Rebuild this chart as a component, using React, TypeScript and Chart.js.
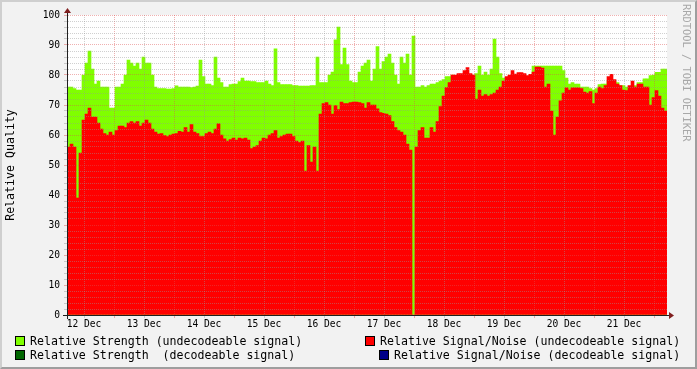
import React, { useEffect, useRef } from "react";
import { Chart, registerables } from "chart.js";

Chart.register(...registerables);

// Time axis: hours counted from 12 Dec 00:00; one sample every 1.2 h
const START_HOUR = 5.2;
const STEP_HOURS = 1.2;
const DAY_LABELS = ["12 Dec", "13 Dec", "14 Dec", "15 Dec", "16 Dec", "17 Dec", "18 Dec", "19 Dec", "20 Dec", "21 Dec"];
const Y_LABEL_EVERY = 10;

// Relative Strength (undecodeable signal)
const strengthUndecodeable = [
  76, 76, 75.5, 75, 75, 80, 84, 88, 82, 77,
  78, 76, 76, 76, 69, 69, 76, 76, 77, 80,
  85, 84, 83, 84, 82, 86, 84, 84, 80, 76,
  75.5, 75.5, 75.5, 75.3, 75.3, 75.5, 76.4, 76, 76, 76,
  76, 75.8, 76, 76.3, 85, 79.5, 77, 77, 76.5, 86,
  79, 77.5, 76, 76, 76.8, 77, 77, 77.8, 79, 78,
  78, 77.8, 77.8, 77.5, 77.5, 77.5, 78, 77, 76.5, 88.7,
  77.5, 76.8, 76.8, 76.8, 76.8, 76.5, 76.5, 76.3, 76.3, 76.3,
  76.3, 76.5, 76.5, 86, 77.5, 77.5, 77.5, 80, 81, 91.7,
  96, 83.5, 89, 83.5, 78, 77.5, 77.5, 81, 83, 84,
  85, 78, 82, 89.5, 82, 84.5, 86, 87, 84, 80,
  77, 86, 84, 87, 80, 93, 76, 76, 76.5, 76,
  76.5, 77, 77, 77.5, 78, 78.5, 79.5, 79.5, 80, 79.5,
  79.5, 80, 80, 79, 79, 80, 80.5, 83, 80, 81,
  80, 82, 92, 86, 80.5, 79, 78, 78, 78, 78,
  78, 78, 79, 79, 80, 83, 83, 83, 83, 83,
  83, 83, 83, 83, 83, 81.5, 79, 77, 77.5, 77,
  77, 76, 76, 76, 75.5, 75, 75.5, 76.8, 77, 77,
  78, 78, 78, 77.5, 76.5, 76.5, 76, 76, 76, 76.5,
  77.5, 77.5, 78.7, 78.7, 79.8, 80, 80.9, 80.9, 82, 82,
];

// Relative Signal/Noise (undecodeable signal)
const signalNoiseUndecodeable = [
  56, 57, 56, 39, 54, 65, 67, 69, 66, 66,
  64, 62, 60.5, 60, 61, 60, 61.5, 63, 63, 62.5,
  64, 64.5, 64, 64.5, 63, 64, 65, 64, 62, 61,
  60.3, 60.5, 59.8, 59.5, 60, 60.3, 60.5, 61.2, 61, 62.5,
  61, 63.5, 61, 60.5, 59.5, 59.5, 60.5, 61, 60.5, 62,
  63.7, 60, 58.7, 58, 58.5, 59, 58.3, 59, 58.7, 59,
  58.3, 55.5, 56, 56.5, 58, 59, 58.7, 60, 60.5, 61.5,
  59, 59.5, 60, 60.3, 60.3, 59.5, 58, 57.5, 58, 48,
  56.5, 51, 56, 48, 67, 70.5, 70.8, 70, 67, 69.8,
  68.5, 71, 70.5, 70.5, 70.8, 71, 71, 70.8, 70.5, 69,
  70.8, 70, 70, 68.7, 67.5, 67.2, 67, 66.5, 64.5, 62.5,
  61.5, 61, 60, 57, 55, 0, 56, 61.5, 62.5, 59,
  59, 62.5, 61, 64.5, 69.5, 73, 75.8, 77.5, 80, 80,
  80.5, 80.5, 81.5, 82.5, 80.5, 80, 72, 75, 73, 73.5,
  73, 73.5, 74, 75, 76, 78, 79.5, 80, 81.5, 80.3,
  80.8, 80.8, 80.5, 79.8, 80.2, 81, 82.6, 82.6, 82.3, 76,
  77, 68, 60, 66, 71.4, 74, 75.7, 75, 75.7, 75.7,
  75.7, 75.5, 74.3, 74, 74.5, 70.5, 74, 76, 75.5, 76.5,
  79.5, 80.2, 78.5, 77, 76.5, 75, 74.8, 76.5, 78, 76,
  77, 77, 76, 76, 70, 72.5, 74.8, 73, 69, 68,
];

const LEGEND_ITEMS = [
  { label: "Relative Strength (undecodeable signal)", color: "#80ff00", left: 15, textLeft: 30, top: 336 },
  { label: "Relative Signal/Noise (undecodeable signal)", color: "#ff0000", left: 365, textLeft: 380, top: 336 },
  { label: "Relative Strength  (decodeable signal)", color: "#006600", left: 15, textLeft: 30, top: 350 },
  { label: "Relative Signal/Noise (decodeable signal)", color: "#000088", left: 379, textLeft: 394, top: 350 },
];

const GRID_MINOR = "rgba(150,150,150,0.45)";
const GRID_MAJOR = "rgba(222,79,79,0.45)";
const AXIS = "rgb(31,31,31)";
const ARROW = "rgb(128,31,31)";
const MONO = "'DejaVu Sans Mono', monospace";

const toPoints = (vals: number[]) =>
  vals.map((v, i) => ({ x: START_HOUR + STEP_HOURS * (i + 0.5), y: v }));

const areaBackground = {
  id: "areaBackground",
  beforeDraw(chart: any) {
    const { ctx, chartArea: a } = chart;
    ctx.save();
    ctx.fillStyle = "#ffffff";
    ctx.fillRect(a.left, a.top, a.right - a.left, a.bottom - a.top);
    ctx.restore();
  },
};

const axisArrows = {
  id: "axisArrows",
  afterDraw(chart: any) {
    const { ctx, chartArea: a } = chart;
    const x0 = a.left + 0.5;
    const y0 = a.bottom + 0.5;
    ctx.save();
    ctx.strokeStyle = AXIS;
    ctx.lineWidth = 1;
    ctx.beginPath();
    ctx.moveTo(a.left - 4, y0);
    ctx.lineTo(a.right + 4, y0);
    ctx.moveTo(x0, a.bottom + 4);
    ctx.lineTo(x0, a.top - 4);
    ctx.stroke();
    ctx.fillStyle = ARROW;
    ctx.beginPath();
    ctx.moveTo(a.right + 2, y0 - 3.5);
    ctx.lineTo(a.right + 2, y0 + 3.5);
    ctx.lineTo(a.right + 7, y0);
    ctx.closePath();
    ctx.fill();
    ctx.beginPath();
    ctx.moveTo(x0 - 3.5, a.top - 2);
    ctx.lineTo(x0 + 3.5, a.top - 2);
    ctx.lineTo(x0, a.top - 7);
    ctx.closePath();
    ctx.fill();
    ctx.restore();
  },
};

export default function App() {
  const ref = useRef<HTMLCanvasElement | null>(null);

  useEffect(() => {
    document.body.style.margin = "0";
    const canvas = ref.current;
    if (!canvas) return;
    const endHour = START_HOUR + STEP_HOURS * signalNoiseUndecodeable.length;
    const xTicks: number[] = [];
    DAY_LABELS.forEach((_, d) => {
      xTicks.push(24 * d + 12, 24 * d + 24);
    });

    const chart = new Chart(canvas, {
      type: "bar",
      data: {
        datasets: [
          {
            label: "Relative Signal/Noise (undecodeable signal)",
            data: toPoints(signalNoiseUndecodeable),
            backgroundColor: "#ff0000",
            borderWidth: 0,
            barPercentage: 1,
            categoryPercentage: 1,
            grouped: false,
          } as any,
          {
            label: "Relative Strength (undecodeable signal)",
            data: toPoints(strengthUndecodeable),
            backgroundColor: "#80ff00",
            borderWidth: 0,
            barPercentage: 1,
            categoryPercentage: 1,
            grouped: false,
          } as any,
        ],
      },
      options: {
        responsive: false,
        animation: false,
        devicePixelRatio: 1,
        layout: { padding: { top: 15, right: 30, bottom: 0, left: 0 } },
        plugins: { legend: { display: false }, tooltip: { enabled: false } },
        scales: {
          x: {
            type: "linear",
            offset: false,
            min: START_HOUR,
            max: endHour,
            afterFit: (s: any) => {
              s.height = 54;
            },
            afterBuildTicks: (s: any) => {
              s.ticks = xTicks.filter((v) => v <= endHour).map((v) => ({ value: v }));
            },
            grid: {
              z: 1,
              offset: false,
              lineWidth: 1,
              drawTicks: true,
              tickLength: 3,
              color: (c: any) => (c.tick && c.tick.value % 24 === 0 ? GRID_MAJOR : GRID_MINOR),
            },
            border: { z: 2, color: AXIS, width: 1, dash: [1, 1] },
            ticks: {
              autoSkip: false,
              maxRotation: 0,
              padding: 1,
              color: "#000",
              font: { family: MONO, size: 9.6 },
              callback: (v: any) => {
                const n = Number(v);
                return n % 24 === 12 ? DAY_LABELS[(n - 12) / 24] : "";
              },
            },
          },
          y: {
            type: "linear",
            min: 0,
            max: 100,
            afterFit: (s: any) => {
              s.width = 67;
            },
            grid: {
              z: 1,
              lineWidth: 1,
              drawTicks: true,
              tickLength: 3,
              color: (c: any) => (c.tick && c.tick.value % Y_LABEL_EVERY === 0 ? GRID_MAJOR : GRID_MINOR),
            },
            border: { z: 2, color: AXIS, width: 1, dash: [1, 1] },
            ticks: {
              stepSize: 2,
              autoSkip: false,
              padding: 4,
              color: "#000",
              font: { family: MONO, size: 9.6 },
              callback: (v: any) => (Number(v) % Y_LABEL_EVERY === 0 ? String(v) : ""),
            },
            title: {
              display: true,
              text: "Relative Quality",
              color: "#000",
              font: { family: MONO, size: 11.6 },
              padding: { top: 4, bottom: 0 },
            },
          },
        },
      } as any,
      plugins: [areaBackground, axisArrows],
    });
    return () => chart.destroy();
  }, []);

  return (
    <div
      style={{
        position: "absolute",
        left: 0,
        top: 0,
        width: 697,
        height: 369,
        background: "#f2f2f2",
        overflow: "hidden",
        fontFamily: MONO,
      }}
    >
      <div
        style={{
          position: "absolute",
          left: 0,
          top: 0,
          width: 697,
          height: 369,
          boxSizing: "border-box",
          borderTop: "2px solid #cfcfcf",
          borderLeft: "2px solid #cfcfcf",
          borderRight: "2px solid #9e9e9e",
          borderBottom: "2px solid #9e9e9e",
        }}
      />
      <canvas ref={ref} width={697} height={369} style={{ position: "absolute", left: 0, top: 0 }} />
      <div
        style={{
          position: "absolute",
          left: 682,
          top: 4,
          writingMode: "vertical-rl",
          fontSize: 10.4,
          lineHeight: "10.4px",
          color: "#a8a8a8",
          whiteSpace: "pre",
        }}
      >
        RRDTOOL / TOBI OETIKER
      </div>
      {LEGEND_ITEMS.map((it) => (
        <React.Fragment key={it.label}>
          <div
            style={{
              position: "absolute",
              left: it.left,
              top: it.top,
              width: 8,
              height: 8,
              background: it.color,
              border: "1px solid #000",
            }}
          />
          <div
            style={{
              position: "absolute",
              left: it.textLeft,
              top: it.top - 0.7,
              fontSize: 11.6,
              lineHeight: "12px",
              color: "#000",
              whiteSpace: "pre",
            }}
          >
            {it.label}
          </div>
        </React.Fragment>
      ))}
    </div>
  );
}
